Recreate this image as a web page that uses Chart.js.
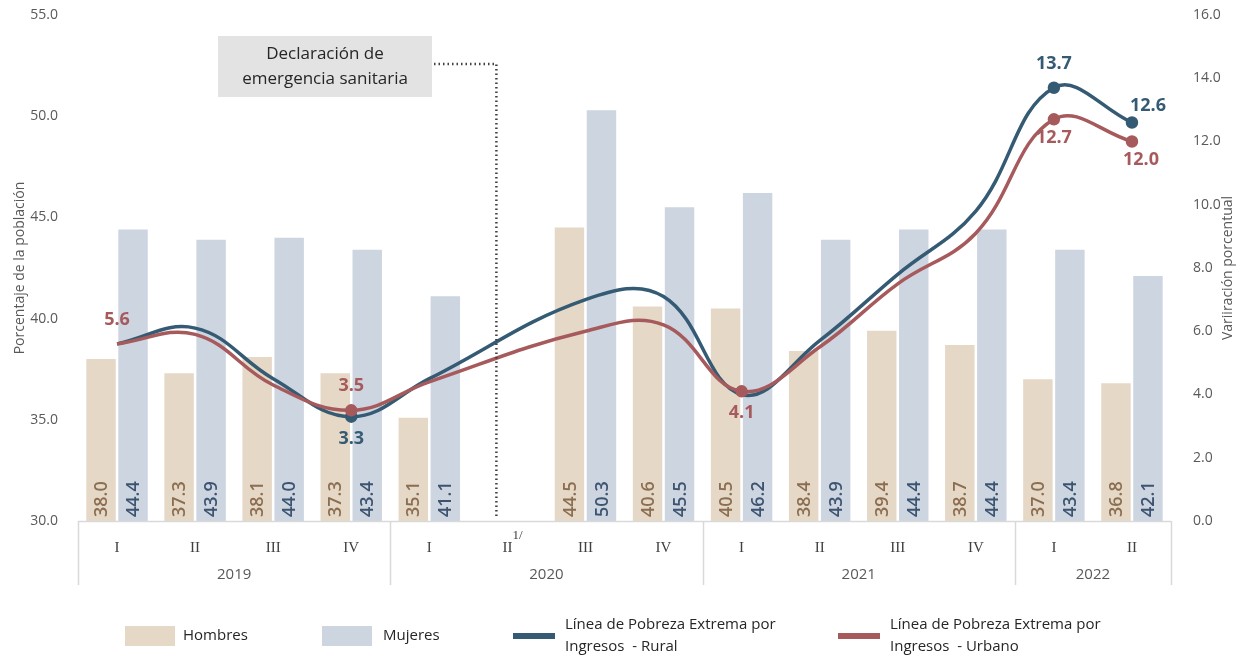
<!DOCTYPE html>
<html>
<head>
<meta charset="utf-8">
<script src="https://cdn.jsdelivr.net/npm/chart.js@4"></script>
<style>
  html, body { margin: 0; padding: 0; background: #fff; }
  #wrap { position: relative; width: 1244px; height: 658px; }
</style>
</head>
<body>
<div id="wrap"><canvas id="chart" width="1244" height="658"></canvas></div>
<script>
const quarters = ['I', 'II', 'III', 'IV', 'I', 'II', 'III', 'IV', 'I', 'II', 'III', 'IV', 'I', 'II'];
const years = ['2019', '2020', '2021', '2022'];
const yearSpans = [4, 4, 4, 2];
const hombres = [38.0, 37.3, 38.1, 37.3, 35.1, null, 44.5, 40.6, 40.5, 38.4, 39.4, 38.7, 37.0, 36.8];
const mujeres = [44.4, 43.9, 44.0, 43.4, 41.1, null, 50.3, 45.5, 46.2, 43.9, 44.4, 44.4, 43.4, 42.1];
const rural = [5.6, 6.1, 4.5, 3.3, 4.5, null, 7.0, 7.1, 4.0, 5.7, 7.8, 9.8, 13.7, 12.6];
const urbano = [5.6, 5.9, 4.3, 3.5, 4.4, null, 6.0, 6.2, 4.1, 5.5, 7.5, 9.1, 12.7, 12.0];
// which line points get a label: index -> position
const ruralLabels = { 3: 'below', 12: 'above', 13: 'aboveRight' };
const urbanoLabels = { 0: 'above', 3: 'above', 8: 'below', 12: 'belowNear', 13: 'belowRight' };

const font = "'Open Sans', 'Noto Sans', sans-serif";
const cHombres = '#e6d8c6', cMujeres = '#cdd5e1';
const cRural = '#355b74', cUrbano = '#a65a5c';

const barLabels = {
  id: 'barLabels',
  afterDatasetsDraw(chart) {
    const ctx = chart.ctx;
    [[0, '#8b6e52'], [1, '#3d5470']].forEach(([i, col]) => {
      chart.getDatasetMeta(i).data.forEach((bar, j) => {
        const v = chart.data.datasets[i].data[j];
        if (v == null) return;
        ctx.save();
        ctx.translate(bar.x, chart.chartArea.bottom - 4);
        ctx.rotate(-Math.PI / 2);
        ctx.font = '600 18px ' + font;
        ctx.fillStyle = col;
        ctx.textAlign = 'left';
        ctx.textBaseline = 'middle';
        ctx.fillText(v.toFixed(1), 0, 1);
        ctx.restore();
      });
    });
    // line labels
    [[2, ruralLabels, cRural], [3, urbanoLabels, cUrbano]].forEach(([i, labs, col]) => {
      const meta = chart.getDatasetMeta(i);
      Object.keys(labs).forEach(k => {
        const p = meta.data[k];
        const v = chart.data.datasets[i].data[k];
        ctx.save();
        ctx.font = 'bold 18px ' + font;
        ctx.fillStyle = col;
        ctx.textAlign = 'center';
        ctx.textBaseline = 'middle';
        let x = p.x, y = p.y;
        if (labs[k] === 'above') y -= 24;
        if (labs[k] === 'below') y += 22;
        if (labs[k] === 'belowNear') y += 19;
        if (labs[k] === 'aboveRight') { x += 16; y -= 17; }
        if (labs[k] === 'belowRight') { x += 9; y += 18; }
        ctx.fillText(v.toFixed(1), x, y);
        ctx.restore();
      });
    });
  }
};

const extras = {
  id: 'extras',
  afterDraw(chart) {
    const ctx = chart.ctx;
    const a = chart.chartArea;
    const xs = chart.scales.x;
    const step = xs.getPixelForValue(1) - xs.getPixelForValue(0);
    // baseline and group separators
    ctx.save();
    ctx.strokeStyle = '#d9d9d9';
    ctx.lineWidth = 1.5;
    ctx.beginPath();
    ctx.moveTo(a.left, a.bottom + 0.5);
    ctx.lineTo(a.right, a.bottom + 0.5);
    let start = 0;
    const bounds = [0];
    yearSpans.forEach(s => { start += s; bounds.push(start); });
    bounds.forEach(b => {
      const x = Math.round(xs.getPixelForValue(b) - step / 2) + 0.5;
      ctx.moveTo(x, a.bottom);
      ctx.lineTo(x, a.bottom + 64);
    });
    ctx.stroke();
    ctx.font = '15px ' + font;
    ctx.fillStyle = '#595959';
    ctx.textAlign = 'center';
    ctx.textBaseline = 'middle';
    years.forEach((yr, i) => {
      const x0 = xs.getPixelForValue(bounds[i]) - step / 2;
      const x1 = xs.getPixelForValue(bounds[i + 1]) - step / 2;
      ctx.fillText(yr, (x0 + x1) / 2, a.bottom + 54);
    });
    // footnote 1/
    ctx.font = '13px ' + "'Liberation Serif', serif";
    ctx.fillStyle = '#404040';
    ctx.textAlign = 'left';
    ctx.fillText('1/', xs.getPixelForValue(5) + 5, a.bottom + 15);

    // axis titles
    ctx.font = '14px ' + font;
    ctx.fillStyle = '#595959';
    ctx.textAlign = 'center';
    const ymid = (a.top + a.bottom) / 2;
    ctx.save();
    ctx.translate(20, ymid);
    ctx.rotate(-Math.PI / 2);
    ctx.fillText('Porcentaje de la población', 0, 0);
    ctx.restore();
    ctx.save();
    ctx.translate(1228, 268);
    ctx.rotate(-Math.PI / 2);
    ctx.fillText('Variiración porcentual', 0, 0);
    ctx.restore();

    // annotation box
    const bx = 218, by = 36, bw = 214, bh = 61;
    ctx.fillStyle = '#e3e3e3';
    ctx.fillRect(bx, by, bw, bh);
    ctx.fillStyle = '#262626';
    ctx.font = '17px ' + font;
    ctx.textAlign = 'center';
    ctx.fillText('Declaración de', bx + bw / 2, by + 18);
    ctx.fillText('emergencia sanitaria', bx + bw / 2, by + 43);
    const lx = xs.getPixelForValue(5) - 11;
    ctx.strokeStyle = '#404040';
    ctx.lineWidth = 2.5;
    ctx.setLineDash([1.5, 3]);
    ctx.beginPath();
    ctx.moveTo(bx + bw + 2, by + 28);
    ctx.lineTo(lx, by + 28);
    ctx.lineTo(lx, a.bottom - 2);
    ctx.stroke();
    ctx.setLineDash([]);

    // legend
    const ly = 636;
    ctx.font = '15px ' + "'Liberation Sans Narrow', 'Open Sans', sans-serif";
    ctx.textAlign = 'left';
    ctx.fillStyle = cHombres; ctx.fillRect(125, ly - 10, 50, 20);
    ctx.fillStyle = cMujeres; ctx.fillRect(322, ly - 10, 50, 20);
    ctx.fillStyle = cRural; ctx.fillRect(513, ly - 3, 42, 6);
    ctx.fillStyle = cUrbano; ctx.fillRect(838, ly - 3, 42, 6);
    ctx.fillStyle = '#262626';
    ctx.fillText('Hombres', 183, ly);
    ctx.fillText('Mujeres', 383, ly);
    ctx.fillText('Línea de Pobreza Extrema por', 565, ly - 11);
    ctx.fillText('Ingresos  - Rural', 565, ly + 11);
    ctx.fillText('Línea de Pobreza Extrema por', 890, ly - 11);
    ctx.fillText('Ingresos  - Urbano', 890, ly + 11);
    ctx.restore();
  }
};

new Chart(document.getElementById('chart'), {
  type: 'bar',
  data: {
    labels: quarters,
    datasets: [
      { label: 'Hombres', data: hombres, backgroundColor: cHombres, yAxisID: 'y', order: 2,
        categoryPercentage: 0.82, barPercentage: 0.92 },
      { label: 'Mujeres', data: mujeres, backgroundColor: cMujeres, yAxisID: 'y', order: 2,
        categoryPercentage: 0.82, barPercentage: 0.92 },
      { type: 'line', label: 'Línea de Pobreza Extrema por Ingresos - Rural', data: rural,
        borderColor: cRural, backgroundColor: cRural, borderWidth: 3.5, tension: 0.4, spanGaps: true,
        yAxisID: 'y1', order: 1,
        pointRadius: rural.map((v, i) => ruralLabels[i] ? 4.5 : 0) },
      { type: 'line', label: 'Línea de Pobreza Extrema por Ingresos - Urbano', data: urbano,
        borderColor: cUrbano, backgroundColor: cUrbano, borderWidth: 3.5, tension: 0.4, spanGaps: true,
        yAxisID: 'y1', order: 0,
        pointRadius: urbano.map((v, i) => (urbanoLabels[i] && i !== 0) ? 4.5 : 0) }
    ]
  },
  options: {
    responsive: false,
    animation: false,
    layout: { padding: { top: 15, bottom: 0, left: 0, right: 0 } },
    plugins: { legend: { display: false }, tooltip: { enabled: false } },
    scales: {
      x: {
        grid: { display: false },
        border: { display: false },
        ticks: { color: '#404040', padding: 10, font: { family: "'Liberation Serif', serif", size: 15 } },
        afterFit(s) { s.height = 137; }
      },
      y: {
        position: 'left',
        min: 30, max: 55,
        grid: { display: false },
        border: { display: false },
        ticks: { stepSize: 5, padding: 12, color: '#595959', font: { family: font, size: 14 },
          callback: v => v.toFixed(1) },
        afterFit(s) { s.width = 78; s.paddingTop = 0; s.paddingBottom = 0; }
      },
      y1: {
        position: 'right',
        min: 0, max: 16,
        grid: { display: false },
        border: { display: false },
        ticks: { stepSize: 2, padding: 14, color: '#595959', font: { family: font, size: 14 },
          callback: v => v.toFixed(1) },
        afterFit(s) { s.width = 73; s.paddingTop = 0; s.paddingBottom = 0; }
      }
    }
  },
  plugins: [barLabels, extras]
});
</script>
</body>
</html>
